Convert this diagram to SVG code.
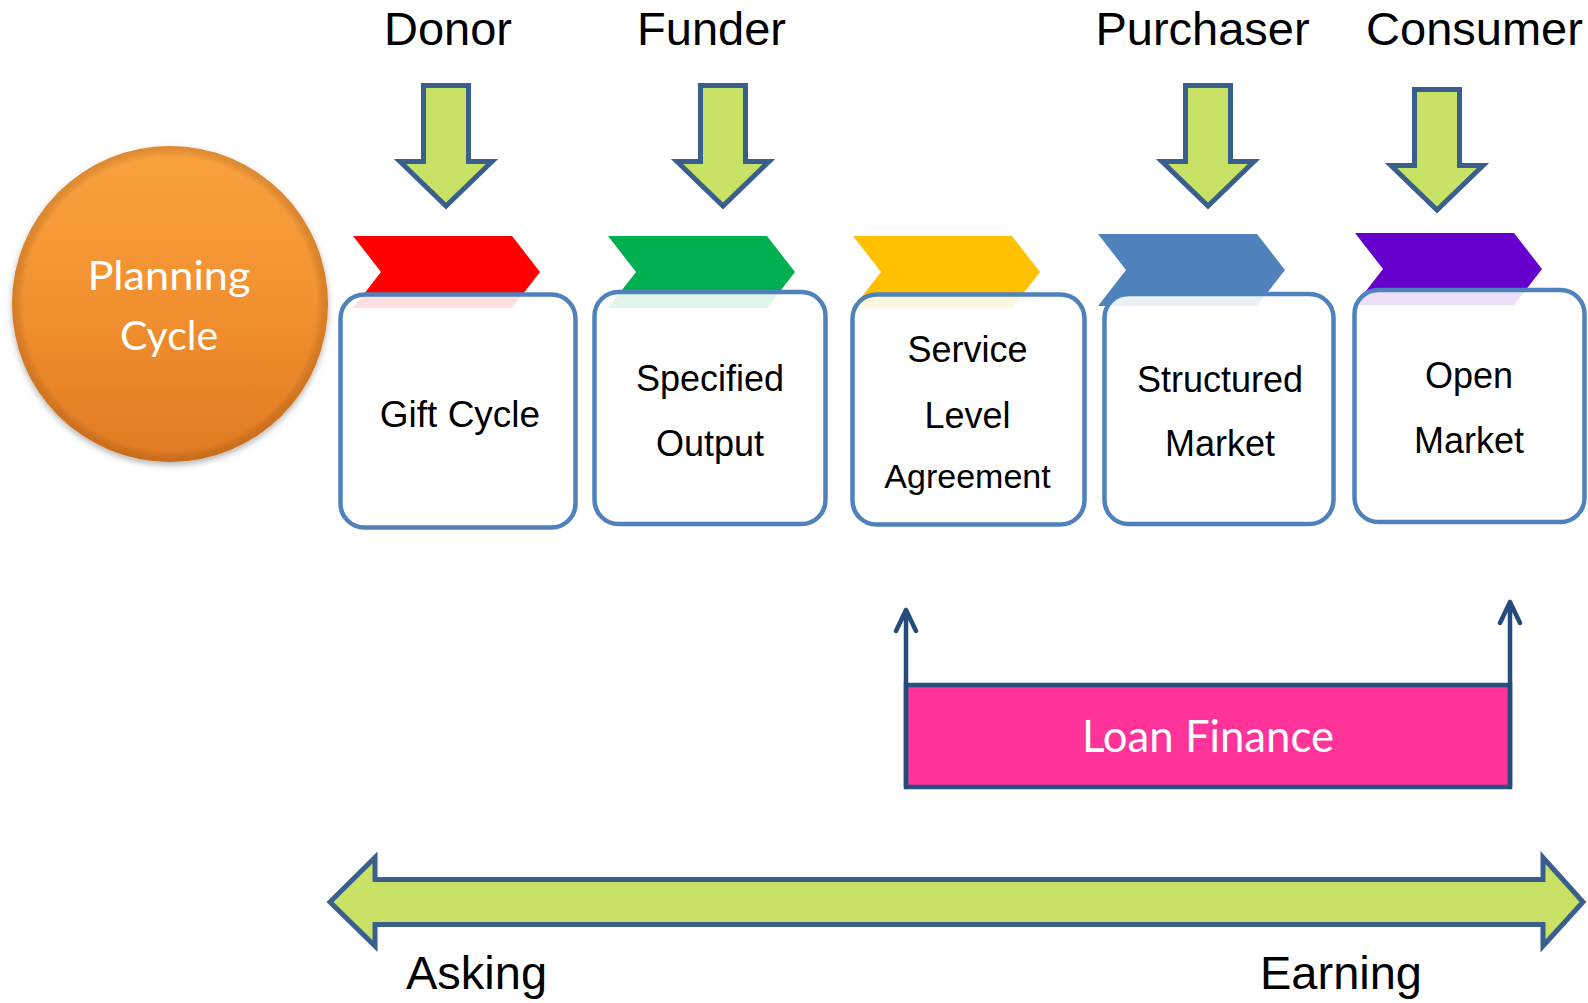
<svg xmlns="http://www.w3.org/2000/svg" width="1588" height="1003" viewBox="0 0 1588 1003">
<style>
.lbl{font-family:"Liberation Sans",Arial,sans-serif;fill:#000;text-anchor:middle}
.top{font-size:47px}
.box{fill:#fff;fill-opacity:0.88;stroke:#4F81BD;stroke-width:4.5}
.btxt{font-size:36px}
.garrow{fill:#C8E266;stroke:#3A5F8C;stroke-width:5;stroke-linejoin:miter}
.cal{font-family:Lato,"Open Sans",sans-serif;fill:#fff;text-anchor:middle}
.conn{fill:none;stroke:#254B7C;stroke-width:4.5;stroke-linecap:round;stroke-linejoin:round}
.st{text-anchor:start}
</style>
<defs>
<path id="down" d="M-22.5,2.5 H22.5 V78.5 H46 L0,123 L-46,78.5 H-22.5 Z"/>
<path id="chev" d="M0,0 H159 L187,36 L159,72 H0 L28,36 Z"/>
<linearGradient id="og" x1="0" y1="0" x2="0" y2="1">
<stop offset="0" stop-color="#FAA23F"/>
<stop offset="0.55" stop-color="#F18E2E"/>
<stop offset="1" stop-color="#DF7A22"/>
</linearGradient>
<radialGradient id="rim" cx="0.5" cy="0.5" r="0.5">
<stop offset="0.93" stop-color="#000" stop-opacity="0"/>
<stop offset="1" stop-color="#7A3A00" stop-opacity="0.22"/>
</radialGradient>
<filter id="sh" x="-20%" y="-20%" width="140%" height="140%">
<feDropShadow dx="0" dy="3" stdDeviation="3" flood-color="#000" flood-opacity="0.3"/>
</filter>
</defs>

<g id="planning-cycle">
<circle cx="170" cy="304" r="158" fill="url(#og)" filter="url(#sh)"/>
<circle cx="170" cy="304" r="158" fill="url(#rim)"/>
<text class="cal" x="169" y="290" font-size="41" textLength="163" lengthAdjust="spacingAndGlyphs">Planning</text>
<text class="cal" x="169" y="350" font-size="41">Cycle</text>
</g>

<g id="donor">
<text class="lbl top" x="448" y="45">Donor</text>
<use href="#down" class="garrow" transform="translate(446,83)"/>
</g>
<g id="funder">
<text class="lbl top" x="711.5" y="45">Funder</text>
<use href="#down" class="garrow" transform="translate(723,83)"/>
</g>
<g id="purchaser">
<text class="lbl top" x="1202.5" y="45">Purchaser</text>
<use href="#down" class="garrow" transform="translate(1208,83)"/>
</g>
<g id="consumer">
<text class="lbl top" x="1474.5" y="45">Consumer</text>
<use href="#down" class="garrow" transform="translate(1437,87)"/>
</g>

<g id="gift-cycle">
<use href="#chev" fill="#FF0000" transform="translate(353,236)"/>
<rect class="box" x="340.5" y="294.5" width="235" height="233" rx="24"/>
<text class="lbl" x="460" y="427" font-size="37">Gift Cycle</text>
</g>
<g id="specified-output">
<use href="#chev" fill="#00B050" transform="translate(608,236)"/>
<rect class="box" x="594.5" y="292" width="231" height="232" rx="24"/>
<text class="lbl btxt" x="710" y="391">Specified</text>
<text class="lbl btxt" x="710" y="456">Output</text>
</g>
<g id="service-level-agreement">
<use href="#chev" fill="#FFC000" transform="translate(853,236)"/>
<rect class="box" x="852.5" y="294.5" width="232" height="230" rx="24"/>
<text class="lbl btxt" x="967.5" y="362">Service</text>
<text class="lbl btxt" x="967.5" y="428">Level</text>
<text class="lbl" x="967.5" y="488" font-size="34">Agreement</text>
</g>
<g id="structured-market">
<use href="#chev" fill="#4F81BD" transform="translate(1098,234)"/>
<rect class="box" x="1104.5" y="294" width="229" height="230" rx="24"/>
<text class="lbl btxt" x="1220" y="392">Structured</text>
<text class="lbl btxt" x="1220" y="456">Market</text>
</g>
<g id="open-market">
<use href="#chev" fill="#6600CC" transform="translate(1355,233)"/>
<rect class="box" x="1354.5" y="290" width="230" height="232" rx="24"/>
<text class="lbl btxt" x="1469" y="388">Open</text>
<text class="lbl btxt" x="1469" y="453">Market</text>
</g>

<g id="loan-finance">
<rect x="906" y="685" width="604" height="102" fill="#FF3399" stroke="#2B4F80" stroke-width="4.5"/>
<text class="cal" x="1208" y="752" font-size="45" textLength="252" lengthAdjust="spacingAndGlyphs">Loan Finance</text>
</g>

<g id="connectors">
<path class="conn" d="M906,787 V610 M896,631 L906,610 L916,631"/>
<path class="conn" d="M1510,787 V602 M1500,623 L1510,602 L1520,623"/>
</g>

<g id="asking-earning">
<path class="garrow" d="M330,902 L375,857.5 V879.5 H1543 V857.5 L1583,902 L1543,946 V924.5 H375 V946 Z"/>
<text class="lbl st" x="406" y="989" font-size="47">Asking</text>
<text class="lbl st" x="1260" y="989" font-size="47">Earning</text>
</g>
</svg>
